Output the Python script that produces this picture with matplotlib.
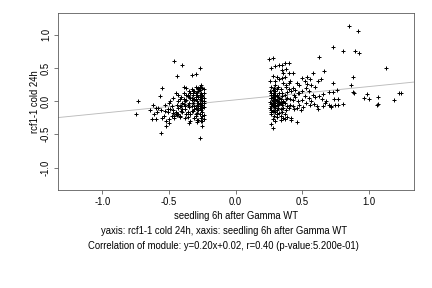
import matplotlib
matplotlib.use("Agg")
import matplotlib.pyplot as plt
import numpy as np

plt.rcParams['font.family'] = ['Liberation Sans', 'DejaVu Sans']

# Left cluster (x, y)
left_x = [-0.745, -0.73, -0.64, -0.63, -0.62, -0.61, -0.60, -0.59, -0.57, -0.56, -0.55, -0.56, -0.55, -0.54,
          -0.53, -0.52, -0.52, -0.51, -0.50, -0.50, -0.50, -0.49, -0.48, -0.47, -0.47, -0.46, -0.46, -0.45,
          -0.45, -0.44, -0.44, -0.43, -0.43, -0.42, -0.42, -0.41, -0.40, -0.40, -0.40, -0.39, -0.39, -0.38,
          -0.38, -0.37, -0.37, -0.36, -0.36, -0.35, -0.35, -0.34, -0.34, -0.33, -0.33, -0.33, -0.32, -0.32,
          -0.31, -0.31, -0.30, -0.30, -0.30, -0.30, -0.29, -0.29, -0.29, -0.28, -0.28, -0.28, -0.27, -0.27,
          -0.27, -0.27, -0.27, -0.26, -0.26, -0.26, -0.26, -0.25, -0.25, -0.25, -0.25, -0.25, -0.24, -0.24,
          -0.45, -0.44, -0.43, -0.42, -0.41, -0.46, -0.47, -0.44, -0.42, -0.40, -0.38, -0.36, -0.35, -0.34,
          -0.33, -0.32, -0.31, -0.30, -0.29, -0.28, -0.27, -0.26, -0.25, -0.24, -0.31, -0.30, -0.29, -0.28,
          -0.27, -0.26, -0.25, -0.24, -0.32, -0.31, -0.30, -0.29, -0.28, -0.27, -0.26, -0.25, -0.24, -0.33,
          -0.35, -0.37, -0.39, -0.41, -0.43, -0.36, -0.38, -0.34, -0.30, -0.28, -0.26, -0.25, -0.24, -0.29,
          -0.27, -0.26, -0.25, -0.24, -0.48, -0.51, -0.58, -0.60, -0.53, -0.49, -0.36, -0.34, -0.32, -0.28,
          -0.26, -0.24, -0.25, -0.27, -0.29, -0.31, -0.33, -0.35, -0.37, -0.39]
left_y = [-0.19, 0.00, -0.13, -0.27, -0.06, -0.20, -0.27, -0.17, 0.08, -0.14, 0.20, -0.48, -0.26, -0.22,
          -0.05, -0.30, -0.37, -0.12, -0.27, -0.33, -0.02, 0.00, -0.08, 0.05, -0.18, 0.61, -0.25, -0.20,
          0.13, 0.38, -0.19, 0.10, -0.10, -0.22, 0.03, 0.07, 0.55, -0.17, -0.02, 0.22, 0.13, -0.12,
          0.00, 0.20, -0.20, -0.06, 0.10, -0.33, 0.15, -0.30, 0.05, 0.40, -0.15, 0.18, -0.02, 0.10,
          -0.25, 0.04, 0.41, -0.10, 0.22, 0.12, -0.18, 0.00, -0.32, 0.06, -0.08, 0.15, 0.50, -0.56,
          -0.04, 0.10, -0.20, 0.25, 0.02, -0.13, -0.26, 0.20, -0.37, 0.08, -0.05, -0.16, 0.00, 0.12,
          -0.17, -0.21, -0.19, -0.24, -0.15, -0.22, -0.13, -0.06, -0.08, -0.12, -0.07, -0.16, -0.09, -0.19,
          -0.07, -0.15, -0.12, -0.20, -0.06, -0.14, -0.11, -0.07, -0.10, -0.09, 0.02, 0.03, 0.09, -0.02,
          0.04, 0.08, 0.01, 0.05, 0.13, 0.16, 0.06, 0.14, 0.19, 0.17, 0.12, 0.05, -0.03, 0.05,
          -0.02, 0.02, -0.04, -0.08, 0.00, -0.24, -0.25, -0.20, -0.23, -0.29, -0.30, -0.22, -0.27, -0.28,
          0.22, 0.07, -0.30, -0.21, -0.22, -0.16, -0.10, -0.10, -0.15, -0.12, 0.08, 0.12, 0.16, 0.20,
          0.22, 0.18, 0.10, -0.02, -0.12, -0.07, 0.02, 0.07, 0.09, 0.03]

# Right cluster (x, y)
right_x = [0.253, 0.28, 0.263, 0.30, 0.33, 0.35, 0.37, 0.40, 0.35, 0.38, 0.36, 0.40, 0.43, 0.26, 0.28, 0.31,
           0.33, 0.35, 0.36, 0.38, 0.30, 0.27, 0.29, 0.32, 0.34, 0.38, 0.40, 0.28, 0.26, 0.30, 0.33, 0.35,
           0.27, 0.29, 0.31, 0.37, 0.39, 0.41, 0.43, 0.45, 0.47, 0.27, 0.28, 0.30, 0.32, 0.34, 0.36, 0.26,
           0.28, 0.30, 0.31, 0.33, 0.35, 0.37, 0.39, 0.41, 0.43, 0.27, 0.29, 0.32, 0.34, 0.36, 0.38, 0.40,
           0.44, 0.46, 0.27, 0.28, 0.30, 0.31, 0.33, 0.35, 0.37, 0.27, 0.29, 0.31, 0.34, 0.36, 0.39, 0.42,
           0.28, 0.30, 0.34, 0.37, 0.42, 0.46, 0.28, 0.27, 0.49, 0.48, 0.50, 0.52, 0.47, 0.45, 0.50, 0.53,
           0.55, 0.57, 0.60, 0.58, 0.62, 0.64, 0.58, 0.54, 0.56, 0.50, 0.52, 0.48, 0.46, 0.43, 0.44, 0.42,
           0.40, 0.39, 0.55, 0.57, 0.59, 0.61, 0.62, 0.56, 0.53, 0.51, 0.60, 0.65, 0.68, 0.70, 0.72, 0.75,
           0.77, 0.67, 0.66, 0.74, 0.66, 0.70, 0.63, 0.54, 0.48, 0.30, 0.37, 0.41,
           0.855, 0.917, 0.73, 0.81, 0.90, 0.925, 0.624, 1.13, 0.667, 0.885, 0.73, 0.867, 0.885, 0.89,
           0.967, 0.985, 1.00, 1.07, 1.07, 1.065, 1.19, 1.225, 1.24, 0.81, 0.77, 0.735, 0.72, 0.76,
           0.27, 0.28, 0.29, 0.30, 0.31, 0.32, 0.33, 0.27, 0.28, 0.29, 0.30, 0.31, 0.32, 0.34, 0.27,
           0.28, 0.29, 0.30, 0.31, 0.33, 0.35, 0.36, 0.38, 0.27, 0.29, 0.31, 0.26, 0.28, 0.30, 0.32]
right_y = [0.63, 0.645, 0.50, 0.53, 0.54, 0.55, 0.57, 0.57, 0.47, 0.49, 0.43, 0.42, 0.42, 0.31, 0.38, 0.36,
           0.33, 0.35, 0.28, 0.25, 0.25, 0.21, 0.20, 0.22, 0.18, 0.21, 0.28, 0.17, 0.15, 0.15, 0.12, 0.13,
           0.10, 0.08, 0.10, 0.09, 0.05, 0.04, 0.02, 0.06, 0.00, 0.05, 0.02, 0.04, 0.00, 0.03, 0.01, -0.01,
           -0.03, -0.02, -0.05, -0.04, -0.06, -0.03, -0.07, -0.05, -0.08, -0.07, -0.09, -0.10, -0.12, -0.10, -0.13, -0.11,
           -0.12, -0.10, -0.13, -0.15, -0.17, -0.14, -0.18, -0.16, -0.20, -0.20, -0.22, -0.24, -0.23, -0.25, -0.24, -0.26,
           -0.27, -0.30, -0.29, -0.27, -0.29, -0.32, -0.41, -0.34, -0.13, -0.05, 0.02, 0.08, 0.12, 0.17, 0.15, 0.20,
           0.16, 0.24, 0.21, 0.10, 0.30, 0.33, 0.42, 0.36, 0.34, 0.35, 0.30, 0.24, 0.28, 0.20, 0.10, 0.15,
           0.18, 0.14, 0.05, 0.00, -0.04, -0.08, -0.12, -0.06, -0.02, -0.09, 0.07, 0.03, 0.00, -0.05, -0.08, -0.06,
           -0.06, -0.03, -0.07, 0.04, 0.11, 0.14, 0.08, 0.26, 0.12, 0.30, 0.37, 0.30,
           1.14, 1.06, 0.82, 0.76, 0.76, 0.72, 0.66, 0.50, 0.46, 0.37, 0.27, 0.24, 0.14, 0.12,
           0.05, 0.11, 0.03, 0.06, -0.04, -0.06, 0.02, 0.12, 0.12, -0.04, 0.03, 0.14, -0.09, 0.17,
           0.05, 0.07, 0.03, 0.08, 0.01, 0.06, -0.01, -0.04, -0.06, -0.02, -0.08, 0.02, -0.06, -0.02, 0.12,
           0.10, 0.13, 0.09, 0.19, 0.05, 0.08, -0.01, 0.04, -0.17, -0.15, -0.19, -0.11, 0.00, -0.10, -0.01]

x_vals = np.array(left_x + right_x)
y_vals = np.array(left_y + right_y)

slope = 0.20
intercept = 0.02

fig = plt.figure(figsize=(6, 4), dpi=72)
ax = fig.add_axes([0.134, 0.340, 0.824, 0.615])

xlim = (-1.335, 1.34)
ylim = (-1.34, 1.33)
xl = np.array(xlim)
ax.plot(xl, slope * xl + intercept, color='#bbbbbb', linewidth=0.9, zorder=1)
ax.scatter(x_vals, y_vals, marker='+', s=22, c='black', linewidths=1.0, zorder=2)

ax.set_xlim(*xlim)
ax.set_ylim(*ylim)
ticks = [-1.0, -0.5, 0.0, 0.5, 1.0]
tick_labels = ['-1.0', '-0.5', '0.0', '0.5', '1.0']
ax.set_xticks(ticks)
ax.set_xticklabels(tick_labels)
ax.set_yticks(ticks)
ax.set_yticklabels(tick_labels, rotation=90, va='center')
ax.tick_params(axis='both', labelsize=9.5, length=4, width=0.7, color='#444444', direction='out', pad=3)
for s in ax.spines.values():
    s.set_color('#555555')
    s.set_linewidth(0.8)

ax.set_xlabel('seedling 6h after Gamma WT', fontsize=9.5, labelpad=4)
ax.set_ylabel('rcf1-1 cold 24h', fontsize=9.5, labelpad=1)

fig.text(0.518, (288 - 231) / 288, 'yaxis: rcf1-1 cold 24h, xaxis: seedling 6h after Gamma WT',
         ha='center', va='center', fontsize=9.5)
fig.text(0.518, (288 - 246) / 288,
         'Correlation of module: y=0.20x+0.02, r=0.40 (p-value:5.200e-01)',
         ha='center', va='center', fontsize=9.5)

fig.savefig('out.png', dpi=72)
